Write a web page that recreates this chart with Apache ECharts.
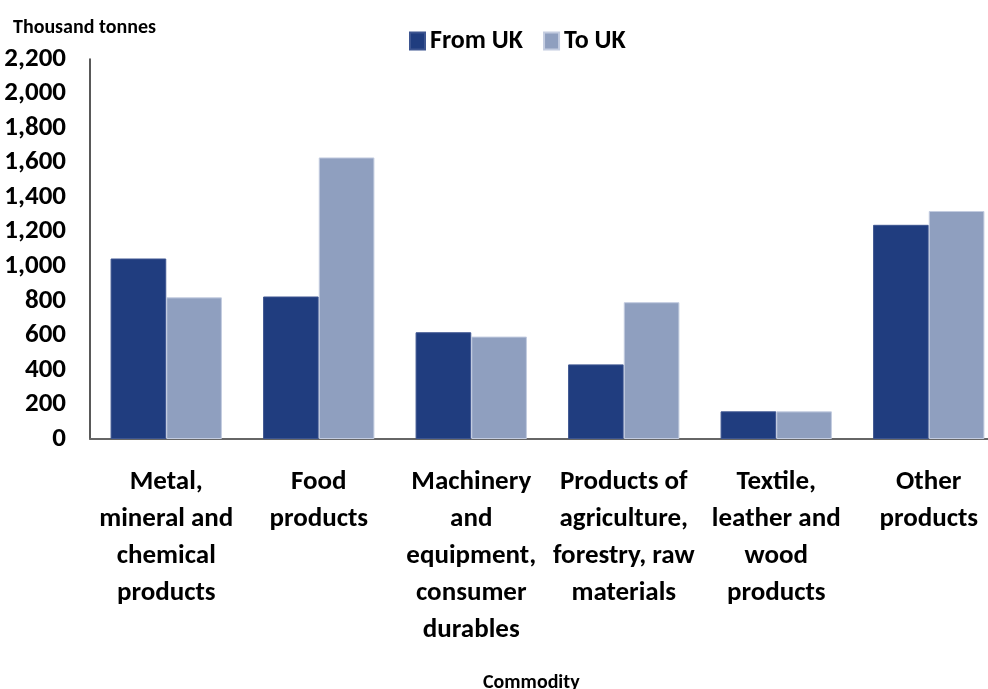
<!DOCTYPE html>
<html>
<head>
<meta charset="utf-8">
<script src="https://cdn.jsdelivr.net/npm/echarts@6/dist/echarts.min.js"></script>
<style>
  html, body { margin: 0; padding: 0; background: #fff; }
  #chart { width: 988px; height: 689px; }
</style>
</head>
<body>
<div id="chart"></div>
<script>
// categories and values (thousand tonnes)
let categories = [
  'Metal,\nmineral and\nchemical\nproducts',
  'Food\nproducts',
  'Machinery\nand\nequipment,\nconsumer\ndurables',
  'Products of\nagriculture,\nforestry, raw\nmaterials',
  'Textile,\nleather and\nwood\nproducts',
  'Other\nproducts'
];
let fromUK = [1045, 825, 618, 432, 160, 1240];
let toUK = [820, 1630, 593, 792, 160, 1320];

let font = "Carlito, Lato, sans-serif";
let smallFont = "'Liberation Sans Narrow', 'Arial Narrow', Carlito, sans-serif";
let colors = ['#203d7f', '#8f9fbf'];

let chart = echarts.init(document.getElementById('chart'));

let option = {
  color: colors,
  animation: false,
  textStyle: { fontFamily: font, color: '#000' },
  title: [
    {
      text: 'Thousand tonnes',
      left: 8, top: 13,
      textStyle: { fontFamily: smallFont, fontSize: 20, fontWeight: 'bold', color: '#000' }
    },
    {
      text: 'Commodity',
      left: 478, top: 668,
      textStyle: { fontFamily: smallFont, fontSize: 20, fontWeight: 'bold', color: '#000' }
    }
  ],
  legend: {
    data: ['From UK', 'To UK'],
    left: 404, top: 23,
    icon: 'rect',
    itemWidth: 15, itemHeight: 17,
    itemGap: 20,
    textStyle: { fontFamily: font, fontSize: 26, fontWeight: 'bold', color: '#000' }
  },
  grid: {
    left: 90, right: -17, top: 59, bottom: 250,
    containLabel: false,
    outerBoundsMode: 'none'
  },
  xAxis: {
    type: 'category',
    data: categories,
    axisLine: { lineStyle: { color: '#666', width: 2 } },
    axisTick: { show: false },
    axisLabel: {
      interval: 0,
      margin: 25,
      fontFamily: font,
      fontSize: 27,
      fontWeight: 'bold',
      lineHeight: 37,
      color: '#000'
    }
  },
  yAxis: {
    type: 'value',
    min: 0, max: 2200, interval: 200,
    splitLine: { show: false },
    axisTick: { show: false },
    axisLine: { show: true, lineStyle: { color: '#222', width: 1.5 } },
    axisLabel: {
      margin: 24,
      fontFamily: font,
      fontSize: 27,
      fontWeight: 'bold',
      color: '#000',
      formatter: function (v) { return v.toLocaleString('en-GB'); }
    }
  },
  series: [
    {
      name: 'From UK',
      type: 'bar',
      data: fromUK,
      barGap: '0%',
      barCategoryGap: '27%',
      itemStyle: { borderColor: '#3d5590', borderWidth: 1 }
    },
    {
      name: 'To UK',
      type: 'bar',
      data: toUK,
      itemStyle: { borderColor: '#c3cce0', borderWidth: 1 }
    }
  ]
};

chart.setOption(option);
</script>
</body>
</html>
